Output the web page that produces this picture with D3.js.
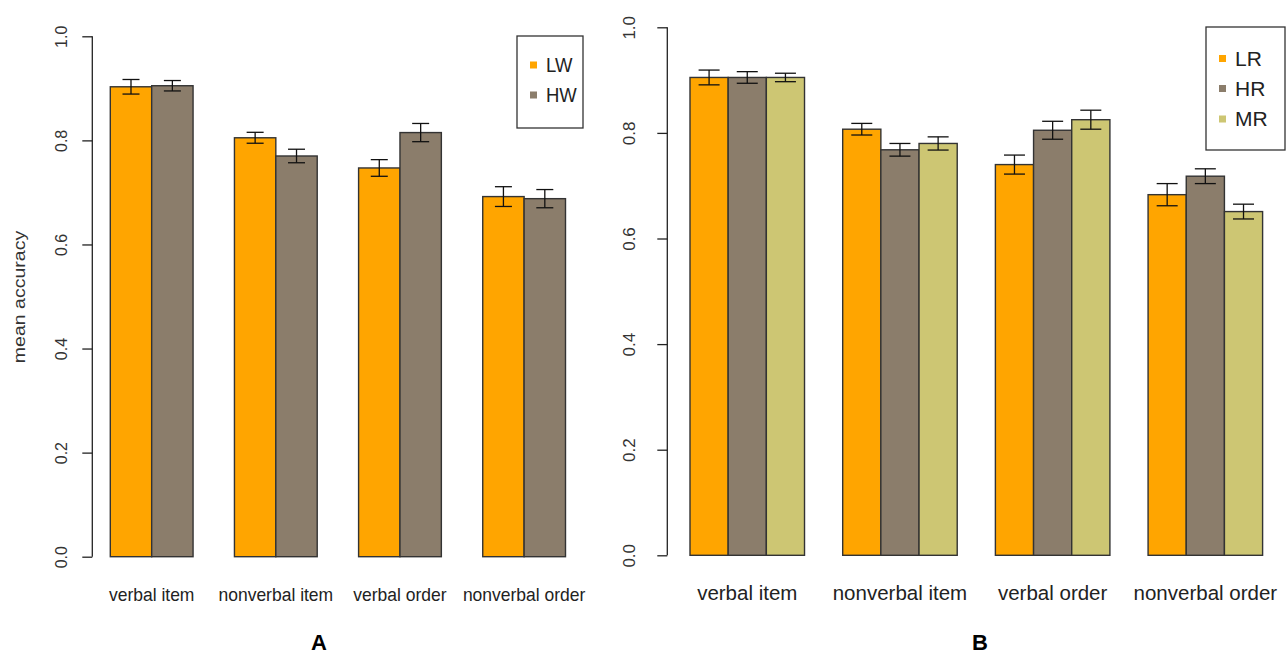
<!DOCTYPE html>
<html>
<head>
<meta charset="utf-8">
<script src="https://cdn.jsdelivr.net/npm/d3@7"></script>
<style>
  body { margin: 0; background: #fff; }
  svg { font-family: "Liberation Sans", Arial, sans-serif; }
</style>
</head>
<body>
<svg width="1287" height="655"></svg>
<script>
const categories = ['verbal item', 'nonverbal item', 'verbal order', 'nonverbal order'];

// panel A
const seriesA = ['LW', 'HW'];
const meanLW = [0.903, 0.805, 0.747, 0.692];
const meanHW = [0.905, 0.770, 0.815, 0.688];
const errLW = [0.014, 0.0105, 0.016, 0.019];
const errHW = [0.010, 0.013, 0.0175, 0.0175];

// panel B
const seriesB = ['LR', 'HR', 'MR'];
const meanLR = [0.905, 0.807, 0.740, 0.683];
const meanHR = [0.905, 0.768, 0.805, 0.718];
const meanMR = [0.905, 0.780, 0.825, 0.651];
const errLR = [0.014, 0.011, 0.018, 0.021];
const errHR = [0.011, 0.012, 0.017, 0.014];
const errMR = [0.008, 0.0125, 0.018, 0.014];

const yTicks = [0, 0.2, 0.4, 0.6, 0.8, 1.0];

const colors = {LW: '#FFA500', HW: '#8B7D6B', LR: '#FFA500', HR: '#8B7D6B', MR: '#CDC673'};

const svg = d3.select('svg');

function panel(opts) {
  const {series, means, errs, xRange, yRange, padInner, axisX, labelOff,
         tickFont, catFont, catY, stretch, capW, legendBox, legendRows, legendFont, title} = opts;

  const x = d3.scaleBand()
    .domain(categories)
    .range(xRange)
    .paddingInner(padInner)
    .paddingOuter(0);
  const xs = d3.scaleBand()
    .domain(series)
    .range([0, x.bandwidth()]);
  const y = d3.scaleLinear().domain([0, 1]).range(yRange);

  const rows = [];
  categories.forEach((c, i) => {
    series.forEach((s, j) => {
      rows.push({cat: c, s: s, v: means[j][i], e: errs[j][i]});
    });
  });

  const g = svg.append('g');

  g.selectAll('.bar')
    .data(rows)
    .enter()
    .append('rect')
      .classed('bar', true)
      .attr('x', d => x(d.cat) + xs(d.s))
      .attr('y', d => y(d.v))
      .attr('width', xs.bandwidth())
      .attr('height', d => y(0) - y(d.v))
      .attr('fill', d => colors[d.s])
      .attr('stroke', '#333')
      .attr('stroke-width', 1.4);

  // error bars
  const eb = g.selectAll('.err')
    .data(rows)
    .enter()
    .append('g')
      .classed('err', true)
      .attr('transform', d => `translate(${x(d.cat) + xs(d.s) + xs.bandwidth() / 2},0)`);
  eb.append('line')
    .attr('y1', d => y(d.v - d.e)).attr('y2', d => y(d.v + d.e))
    .attr('stroke', '#111').attr('stroke-width', 1.3);
  eb.append('line')
    .attr('x1', -capW / 2).attr('x2', capW / 2)
    .attr('y1', d => y(d.v + d.e)).attr('y2', d => y(d.v + d.e))
    .attr('stroke', '#111').attr('stroke-width', 1.3);
  eb.append('line')
    .attr('x1', -capW / 2).attr('x2', capW / 2)
    .attr('y1', d => y(d.v - d.e)).attr('y2', d => y(d.v - d.e))
    .attr('stroke', '#111').attr('stroke-width', 1.3);

  // y axis, R style
  const ax = g.append('g')
    .attr('transform', `translate(${axisX},0)`)
    .call(d3.axisLeft(y).tickValues(yTicks).tickFormat(d3.format('.1f'))
      .tickSize(10).tickSizeOuter(0));
  ax.select('.domain').attr('stroke', '#222').attr('stroke-width', 1.3)
    .attr('d', `M0,${y(0)}V${y(1)}`);
  ax.selectAll('.tick line').attr('stroke', '#222').attr('stroke-width', 1.3);
  ax.selectAll('.tick text')
    .attr('x', 0).attr('y', 0).attr('dy', '0.35em')
    .attr('text-anchor', 'middle')
    .attr('transform', `translate(${-labelOff},0) rotate(-90)`)
    .style('font-size', tickFont + 'px')
    .attr('fill', '#333')
    .attr('font-family', '"Liberation Sans", Arial, sans-serif');

  // category labels
  g.selectAll('.cat')
    .data(categories)
    .enter()
    .append('text')
      .attr('transform', d => `translate(${x(d) + x.bandwidth() / 2},${catY}) scale(1,${stretch})`)
      .attr('text-anchor', 'middle')
      .style('font-size', catFont + 'px')
      .attr('fill', '#222')
      .text(d => d);

  // legend
  const [lx, ly, lw, lh] = legendBox;
  g.append('rect')
    .attr('x', lx).attr('y', ly).attr('width', lw).attr('height', lh)
    .attr('fill', '#fff').attr('stroke', '#333').attr('stroke-width', 1.3);
  const li = g.selectAll('.leg')
    .data(series)
    .enter()
    .append('g')
      .attr('transform', (d, i) => `translate(${lx + 16},${legendRows[i]})`);
  li.append('rect')
    .attr('x', -3).attr('y', -3.5).attr('width', 7).attr('height', 7)
    .attr('fill', d => colors[d]);
  li.append('text')
    .attr('transform', `translate(13,0) scale(1,${stretch})`)
    .attr('dy', '0.35em')
    .style('font-size', legendFont + 'px')
    .attr('fill', '#222')
    .text(d => d);

  g.append('text')
    .attr('x', title[1]).attr('y', 650)
    .attr('text-anchor', 'middle')
    .style('font-size', '22px')
    .style('font-weight', 'bold')
    .text(title[0]);
}

panel({
  series: seriesA,
  means: [meanLW, meanHW],
  errs: [errLW, errHW],
  xRange: [110.3, 565.5],
  yRange: [556.7, 36.3],
  padInner: 1 / 3,
  axisX: 92.3,
  labelOff: 31,
  tickFont: 16,
  catFont: 17.5,
  catY: 601,
  stretch: 1.1,
  capW: 17,
  legendBox: [517, 36, 66, 92],
  legendRows: [65, 95],
  legendFont: 18.5,
  title: ['A', 319]
});

panel({
  series: seriesB,
  means: [meanLR, meanHR, meanMR],
  errs: [errLR, errHR, errMR],
  xRange: [690, 1262.6],
  yRange: [555.3, 27.3],
  padInner: 1 / 4,
  axisX: 667.3,
  labelOff: 38,
  tickFont: 17,
  catFont: 20.5,
  catY: 600,
  stretch: 1,
  capW: 21,
  legendBox: [1206, 27, 79, 123],
  legendRows: [58.5, 88.5, 119],
  legendFont: 21,
  title: ['B', 980]
});

// y axis title (panel A only)
svg.append('text')
  .attr('transform', 'translate(19,297) rotate(-90) scale(1.15,1)')
  .attr('dy', '0.35em')
  .attr('text-anchor', 'middle')
  .style('font-size', '17px')
  .attr('fill', '#333')
  .text('mean accuracy');
</script>
</body>
</html>
